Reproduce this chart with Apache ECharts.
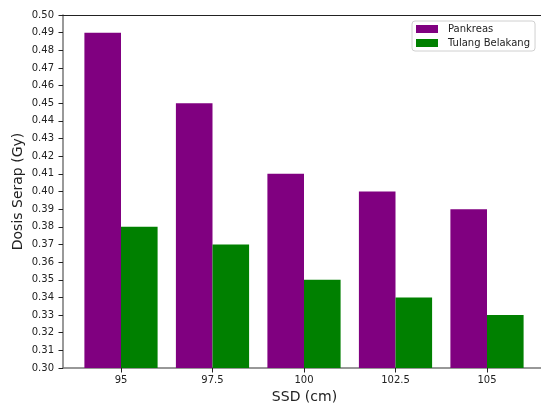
<!DOCTYPE html>
<html>
<head>
<meta charset="utf-8">
<script src="https://cdn.jsdelivr.net/npm/echarts@6/dist/echarts.min.js"></script>
<style>html,body{margin:0;padding:0;background:#fff}#c{width:541px;height:406px}</style>
</head>
<body>
<div id="c"></div>
<script>
var categories = ['95', '97.5', '100', '102.5', '105'];
var pankreas = [0.49, 0.45, 0.41, 0.40, 0.39];
var tulang = [0.38, 0.37, 0.35, 0.34, 0.33];
var seriesNames = ['Pankreas', 'Tulang Belakang'];
var yMin = 0.30, yMax = 0.50, yStep = 0.01;

var FONT = 'DejaVu Sans';
var chart = echarts.init(document.getElementById('c'), null, {renderer: 'canvas'});
var TOP = 15, BOTTOM = 38;
chart.setOption({
  animation: false,
  backgroundColor: '#fff',
  textStyle: {fontFamily: FONT},
  grid: [
    {left: 63, right: -5, top: TOP, bottom: BOTTOM, containLabel: false, outerBoundsMode: 'none'},
    {left: 75.25, right: 8.25, top: TOP, bottom: BOTTOM, containLabel: false, outerBoundsMode: 'none'}
  ],
  legend: {
    orient: 'vertical', left: 412, top: 21,
    padding: [3, 5, 3, 4], itemGap: 4,
    itemWidth: 22, itemHeight: 8, icon: 'rect',
    borderColor: '#d0d0d0', borderWidth: 1, borderRadius: 3,
    backgroundColor: '#fff',
    textStyle: {fontFamily: FONT, fontSize: 10, color: '#222', padding: [0, 0, 0, 5]},
    data: seriesNames
  },
  xAxis: [
    {type: 'value', gridIndex: 0, min: 0, max: 1, position: 'bottom',
     axisLine: {show: true, lineStyle: {color: '#777', width: 1.5}},
     axisTick: {show: false}, axisLabel: {show: false}, splitLine: {show: false},
     name: 'SSD (cm)', nameLocation: 'middle', nameGap: 22, nameMoveOverlap: false,
     nameTextStyle: {fontFamily: FONT, fontSize: 14, color: '#222'}},
    {type: 'value', gridIndex: 0, min: 0, max: 1, position: 'top',
     axisLine: {show: true, lineStyle: {color: '#222', width: 1}},
     axisTick: {show: false}, axisLabel: {show: false}, splitLine: {show: false}},
    {type: 'category', gridIndex: 1, data: categories, position: 'bottom',
     axisLine: {show: false},
     axisTick: {show: true, alignWithLabel: true, length: 4.5, lineStyle: {color: '#222'}},
     axisLabel: {fontFamily: FONT, fontSize: 10, color: '#222', margin: 7},
     splitLine: {show: false}}
  ],
  yAxis: [
    {type: 'value', gridIndex: 0, min: yMin, max: yMax, interval: yStep,
     axisLine: {show: true, lineStyle: {color: '#777', width: 1.5}},
     axisTick: {show: true, length: 4.5, lineStyle: {color: '#222'}},
     axisLabel: {fontFamily: FONT, fontSize: 10, color: '#222', margin: 9,
       formatter: function (v) { return v.toFixed(2); }},
     splitLine: {show: false},
     name: 'Dosis Serap (Gy)', nameLocation: 'middle', nameGap: 38, nameMoveOverlap: false,
     nameTextStyle: {fontFamily: FONT, fontSize: 14, color: '#222'}},
    {type: 'value', gridIndex: 1, min: yMin, max: yMax, interval: yStep, show: false}
  ],
  series: [
    {name: seriesNames[0], type: 'bar', xAxisIndex: 2, yAxisIndex: 1,
     data: pankreas, barGap: '0%', barCategoryGap: '20%',
     itemStyle: {color: '#800080'}},
    {name: seriesNames[1], type: 'bar', xAxisIndex: 2, yAxisIndex: 1,
     data: tulang, barGap: '0%', barCategoryGap: '20%',
     itemStyle: {color: '#008000'}}
  ]
});
</script>
</body>
</html>
